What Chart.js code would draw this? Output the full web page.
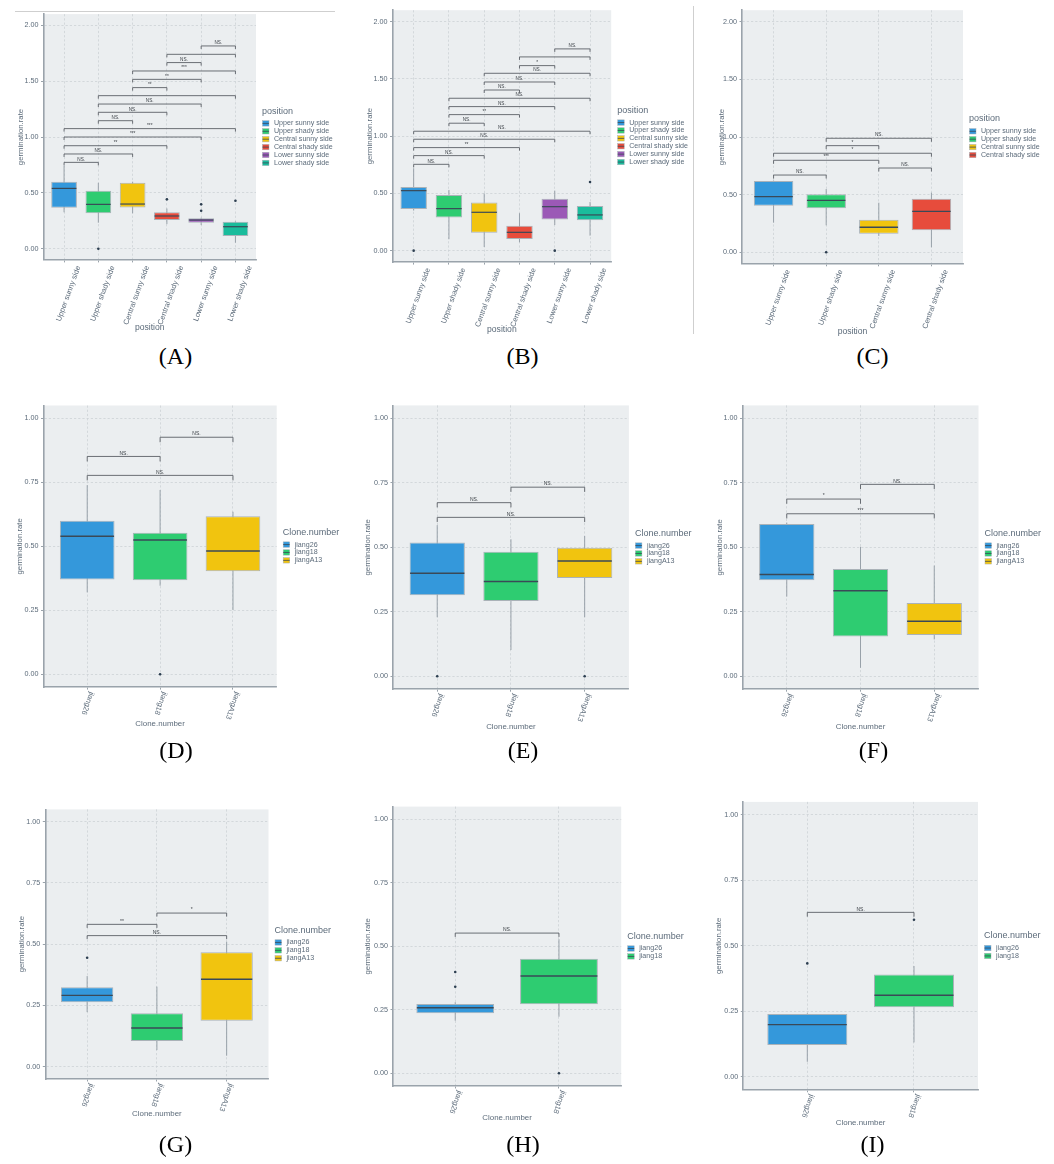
<!DOCTYPE html>
<html>
<head>
<meta charset="utf-8">
<title>Germination rate by position and clone</title>
<script src="https://cdn.jsdelivr.net/npm/chart.js@4.4.1/dist/chart.umd.min.js"></script>
<style>
  html, body { margin: 0; padding: 0; background: #ffffff; }
  body { width: 1054px; height: 1164px; position: relative; overflow: hidden; }
  .cap { position: absolute; font-family: "Liberation Serif", "DejaVu Serif", serif; font-size: 24px;
         line-height: 24px; color: #000; transform: translateX(-50%); white-space: nowrap; }
  .rule { position: absolute; background: #cfcfcf; }
</style>
</head>
<body>
<div class="rule" style="left:15px;top:10.5px;width:320px;height:1px;"></div>
<div class="rule" style="left:692.6px;top:6px;width:1.2px;height:328px;"></div>
<script>
// ---------- categories ----------
const POS6 = ['Upper sunny side', 'Upper shady side', 'Central sunny side',
              'Central shady side', 'Lower sunny side', 'Lower shady side'];
const POS4 = ['Upper sunny side', 'Upper shady side', 'Central sunny side', 'Central shady side'];
const CLONE3 = ['jiang26', 'jiang18', 'jiangA13'];
const CLONE2 = ['jiang26', 'jiang18'];

// ---------- y tick labels ----------
const TICKS_WIDE = [0, 0.5, 1.0, 1.5, 2.0];
const TICKS_UNIT = [0, 0.25, 0.5, 0.75, 1.0];

// ---------- (A) all clones, by position ----------
const aLow  = [0.326, 0.233, 0.317, 0.220, 0.212, 0.054];
const aQ1   = [0.367, 0.317, 0.370, 0.257, 0.233, 0.114];
const aMed  = [0.540, 0.397, 0.400, 0.293, 0.257, 0.197];
const aQ3   = [0.600, 0.520, 0.590, 0.326, 0.272, 0.242];
const aHigh = [0.743, 0.590, 0.600, 0.360, 0.278, 0.245];
const aOut  = [[2, 0.0], [4, 0.442], [5, 0.397], [5, 0.340], [6, 0.430]];
const aSig  = [[1, 2, 0.773, 'NS.'], [1, 3, 0.848, 'NS.'], [1, 4, 0.922, '**'], [1, 5, 1.000, '***'],
               [1, 6, 1.075, '***'], [2, 3, 1.146, 'NS.'], [2, 4, 1.221, 'NS.'], [2, 5, 1.295, 'NS.'],
               [2, 6, 1.370, ''], [3, 4, 1.442, '**'], [3, 5, 1.516, '**'], [3, 6, 1.591, '***'],
               [4, 5, 1.666, 'NS.'], [4, 6, 1.740, ''], [5, 6, 1.815, 'NS.']];

// ---------- (B) ----------
const bLow  = [0.350, 0.100, 0.032, 0.073, 0.224, 0.131];
const bQ1   = [0.364, 0.290, 0.157, 0.102, 0.271, 0.265];
const bMed  = [0.524, 0.367, 0.335, 0.160, 0.384, 0.312];
const bQ3   = [0.556, 0.486, 0.420, 0.218, 0.454, 0.390];
const bHigh = [0.720, 0.530, 0.500, 0.327, 0.524, 0.425];
const bOut  = [[1, 0.0], [5, 0.0], [6, 0.600]];
const bSig  = [[1, 2, 0.754, 'NS.'], [1, 3, 0.830, 'NS.'], [1, 4, 0.900, '**'], [1, 5, 0.973, 'NS.'],
               [1, 6, 1.043, 'NS.'], [2, 3, 1.113, 'NS.'], [2, 4, 1.188, '**'], [2, 5, 1.258, 'NS.'],
               [2, 6, 1.331, 'NS.'], [3, 4, 1.403, 'NS.'], [3, 5, 1.473, 'NS.'], [3, 6, 1.549, 'NS.'],
               [4, 5, 1.616, '*'], [4, 6, 1.692, ''], [5, 6, 1.762, 'NS.']];

// ---------- (C) ----------
const cLow  = [0.257, 0.234, 0.141, 0.043];
const cQ1   = [0.404, 0.382, 0.161, 0.191];
const cMed  = [0.482, 0.451, 0.217, 0.355];
const cQ3   = [0.618, 0.503, 0.283, 0.465];
const cHigh = [0.622, 0.549, 0.430, 0.517];
const cOut  = [[2, 0.0]];
const cSig  = [[1, 2, 0.670, 'NS.'], [3, 4, 0.731, 'NS.'], [1, 3, 0.798, '***'],
               [1, 4, 0.859, '*'], [2, 3, 0.925, '*'], [2, 4, 0.989, 'NS.']];

// ---------- (D) ----------
const dLow  = [0.320, 0.346, 0.251];
const dQ1   = [0.370, 0.367, 0.403];
const dMed  = [0.539, 0.525, 0.482];
const dQ3   = [0.600, 0.553, 0.617];
const dHigh = [0.739, 0.720, 0.635];
const dOut  = [[2, 0.0]];
const dSig  = [[1, 3, 0.777, 'NS.'], [1, 2, 0.851, 'NS.'], [2, 3, 0.926, 'NS.']];

// ---------- (E) ----------
const eLow  = [0.229, 0.102, 0.229];
const eQ1   = [0.314, 0.292, 0.381];
const eMed  = [0.399, 0.367, 0.447];
const eQ3   = [0.519, 0.483, 0.498];
const eHigh = [0.586, 0.531, 0.544];
const eOut  = [[1, 0.0], [3, 0.0]];
const eSig  = [[1, 3, 0.616, 'NS.'], [1, 2, 0.673, 'NS.'], [2, 3, 0.733, 'NS.']];

// ---------- (F) ----------
const fLow  = [0.309, 0.033, 0.143];
const fQ1   = [0.372, 0.154, 0.160];
const fMed  = [0.395, 0.332, 0.213];
const fQ3   = [0.590, 0.416, 0.284];
const fHigh = [0.596, 0.502, 0.429];
const fOut  = [];
const fSig  = [[1, 3, 0.630, '***'], [1, 2, 0.687, '*'], [2, 3, 0.744, 'NS.']];

// ---------- (G) ----------
const gLow  = [0.223, 0.068, 0.045];
const gQ1   = [0.263, 0.105, 0.188];
const gMed  = [0.291, 0.158, 0.357];
const gQ3   = [0.324, 0.218, 0.467];
const gHigh = [0.370, 0.327, 0.510];
const gOut  = [[1, 0.445]];
const gSig  = [[1, 3, 0.535, 'NS.'], [1, 2, 0.581, '**'], [2, 3, 0.627, '*']];

// ---------- (H) ----------
const hLow  = [0.207, 0.223];
const hQ1   = [0.236, 0.272];
const hMed  = [0.258, 0.383];
const hQ3   = [0.273, 0.451];
const hHigh = [0.280, 0.528];
const hOut  = [[1, 0.399], [1, 0.341], [2, 0.0]];
const hSig  = [[1, 2, 0.552, 'NS.']];

// ---------- (I) ----------
const iLow  = [0.057, 0.131];
const iQ1   = [0.121, 0.265];
const iMed  = [0.199, 0.311];
const iQ3   = [0.240, 0.391];
const iHigh = [0.242, 0.423];
const iOut  = [[1, 0.433], [2, 0.600]];
const iSig  = [[1, 2, 0.628, 'NS.']];

// ---------- styling ----------
const FONT = '"Liberation Sans", Arial, Helvetica, sans-serif';
const TEXT = '#5c6b7a';
const AXIS = '#9aa3ab';
const GRID = '#cdd2d6';
const PANEL_BG = '#ebeef0';
const BOX_LINE = '#aab2b8';
const WHISKER = '#98a1a9';
const MEDIAN = '#3a4957';
const POINT = '#2c3e50';
const SIG_LINE = '#5b6066';
const SIG_TEXT = '#3a3f45';
const FILL = {
  'Upper sunny side': '#3498db', 'Upper shady side': '#2ecc71', 'Central sunny side': '#f1c40f',
  'Central shady side': '#e74c3c', 'Lower sunny side': '#9b59b6', 'Lower shady side': '#1abc9c',
  'jiang26': '#3498db', 'jiang18': '#2ecc71', 'jiangA13': '#f1c40f'
};

// ---------- panel layout (page pixels) ----------
const panels = [
  { tag: 'A', cats: POS6, low: aLow, q1: aQ1, med: aMed, q3: aQ3, high: aHigh, out: aOut, sig: aSig,
    ticks: TICKS_WIDE, yMin: -0.1, yMax: 2.1, title: 'position',
    canvas: [0, 0, 345, 340], plot: [43.5, 14.1, 256, 259.9], yTitleX: 20.5, xTitleY: 328, xTitleSize: 8.6,
    tip: 3, sigSize: 4.7, medW: 1.2, down: false, cap: [175.5, 344] },
  { tag: 'B', cats: POS6, low: bLow, q1: bQ1, med: bMed, q3: bQ3, high: bHigh, out: bOut, sig: bSig,
    ticks: TICKS_WIDE, yMin: -0.1, yMax: 2.1, title: 'position',
    canvas: [345, 0, 350, 340], plot: [392.5, 10.2, 611.2, 262.1], yTitleX: 370, xTitleY: 330, xTitleSize: 8.6,
    tip: 3, sigSize: 4.7, medW: 1.2, down: false, cap: [522.5, 344] },
  { tag: 'C', cats: POS4, low: cLow, q1: cQ1, med: cMed, q3: cQ3, high: cHigh, out: cOut, sig: cSig,
    ticks: TICKS_WIDE, yMin: -0.1, yMax: 2.1, title: 'position',
    canvas: [695, 0, 359, 340], plot: [742, 10.2, 963, 263.8], yTitleX: 721.7, xTitleY: 331.7, xTitleSize: 8.6,
    tip: 3.5, sigSize: 4.7, medW: 1.3, down: false, cap: [872.5, 344] },
  { tag: 'D', cats: CLONE3, low: dLow, q1: dQ1, med: dMed, q3: dQ3, high: dHigh, out: dOut, sig: dSig,
    ticks: TICKS_UNIT, yMin: -0.05, yMax: 1.05, title: 'Clone.number',
    canvas: [0, 395, 345, 345], plot: [43.5, 405.5, 276.7, 687.1], yTitleX: 20, xTitleY: 724, xTitleSize: 7.9,
    tip: 5, sigSize: 5, medW: 1.5, down: true, cap: [176, 738] },
  { tag: 'E', cats: CLONE3, low: eLow, q1: eQ1, med: eMed, q3: eQ3, high: eHigh, out: eOut, sig: eSig,
    ticks: TICKS_UNIT, yMin: -0.05, yMax: 1.05, title: 'Clone.number',
    canvas: [345, 395, 350, 345], plot: [393, 405.4, 628.9, 689.2], yTitleX: 368.3, xTitleY: 727.3, xTitleSize: 7.9,
    tip: 4.7, sigSize: 5, medW: 1.5, down: true, cap: [523, 738] },
  { tag: 'F', cats: CLONE3, low: fLow, q1: fQ1, med: fMed, q3: fQ3, high: fHigh, out: fOut, sig: fSig,
    ticks: TICKS_UNIT, yMin: -0.05, yMax: 1.05, title: 'Clone.number',
    canvas: [695, 395, 359, 345], plot: [742.5, 405.4, 978.5, 689.2], yTitleX: 720, xTitleY: 727.3, xTitleSize: 7.9,
    tip: 4.7, sigSize: 5, medW: 1.5, down: true, cap: [873.5, 738] },
  { tag: 'G', cats: CLONE3, low: gLow, q1: gQ1, med: gMed, q3: gQ3, high: gHigh, out: gOut, sig: gSig,
    ticks: TICKS_UNIT, yMin: -0.05, yMax: 1.05, title: 'Clone.number',
    canvas: [0, 795, 345, 340], plot: [45.3, 809.4, 268.5, 1079], yTitleX: 21.7, xTitleY: 1114.3, xTitleSize: 7.9,
    tip: 3.5, sigSize: 5, medW: 1.4, down: true, cap: [175.5, 1132] },
  { tag: 'H', cats: CLONE2, low: hLow, q1: hQ1, med: hMed, q3: hQ3, high: hHigh, out: hOut, sig: hSig,
    ticks: TICKS_UNIT, yMin: -0.05, yMax: 1.05, title: 'Clone.number',
    canvas: [345, 795, 350, 340], plot: [393, 806.6, 621.2, 1086], yTitleX: 368.3, xTitleY: 1118.3, xTitleSize: 7.9,
    tip: 3.8, sigSize: 5, medW: 1.4, down: true, cap: [523, 1132] },
  { tag: 'I', cats: CLONE2, low: iLow, q1: iQ1, med: iMed, q3: iQ3, high: iHigh, out: iOut, sig: iSig,
    ticks: TICKS_UNIT, yMin: -0.05, yMax: 1.05, title: 'Clone.number',
    canvas: [695, 795, 359, 340], plot: [743.3, 801.9, 978, 1089.8], yTitleX: 719.3, xTitleY: 1123.3, xTitleSize: 7.9,
    tip: 4.3, sigSize: 5, medW: 1.4, down: true, cap: [872.5, 1132] }
];

Chart.defaults.font.family = FONT;
Chart.defaults.color = TEXT;

// Whiskers, medians, significance brackets, tilted category labels and the legend.
function boxExtras(p) {
  return {
    id: 'boxExtras' + p.tag,
    beforeDraw(chart) {
      const a = chart.chartArea, ctx = chart.ctx;
      ctx.save();
      ctx.fillStyle = PANEL_BG;
      ctx.fillRect(a.left, a.top, a.right - a.left, a.bottom - a.top);
      ctx.restore();
    },
    beforeDatasetsDraw(chart) {
      const xS = chart.scales.x, yS = chart.scales.y, ctx = chart.ctx;
      ctx.save();
      ctx.strokeStyle = WHISKER;
      ctx.lineWidth = 1;
      p.cats.forEach((c, i) => {
        const x = xS.getPixelForValue(i + 1);
        ctx.beginPath();
        ctx.moveTo(x, yS.getPixelForValue(p.high[i]));
        ctx.lineTo(x, yS.getPixelForValue(p.low[i]));
        ctx.stroke();
      });
      ctx.restore();
    },
    afterDatasetsDraw(chart) {
      const xS = chart.scales.x, yS = chart.scales.y, ctx = chart.ctx;
      const bars = chart.getDatasetMeta(0).data;
      ctx.save();
      ctx.strokeStyle = MEDIAN;
      ctx.lineWidth = p.medW;
      p.cats.forEach((c, i) => {
        const el = bars[i];
        const y = yS.getPixelForValue(p.med[i]);
        ctx.beginPath();
        ctx.moveTo(el.x - el.width / 2 + 0.5, y);
        ctx.lineTo(el.x + el.width / 2 - 0.5, y);
        ctx.stroke();
      });
      ctx.strokeStyle = SIG_LINE;
      ctx.lineWidth = 0.9;
      ctx.fillStyle = SIG_TEXT;
      ctx.font = p.sigSize + 'px ' + FONT;
      ctx.textAlign = 'center';
      ctx.textBaseline = 'alphabetic';
      p.sig.forEach(([i, j, v, lab]) => {
        const x1 = xS.getPixelForValue(i), x2 = xS.getPixelForValue(j), y = yS.getPixelForValue(v);
        ctx.beginPath();
        ctx.moveTo(x1, y + p.tip);
        ctx.lineTo(x1, y);
        ctx.lineTo(x2, y);
        ctx.lineTo(x2, y + p.tip);
        ctx.stroke();
        if (lab) ctx.fillText(lab, (x1 + x2) / 2, y - 1.8);
      });
      ctx.restore();
    },
    afterDraw(chart) {
      const xS = chart.scales.x, ctx = chart.ctx, a = chart.chartArea;
      ctx.save();
      ctx.fillStyle = TEXT;
      p.cats.forEach((c, i) => {
        const x = xS.getPixelForValue(i + 1);
        ctx.save();
        if (p.down) {
          // clone labels run downwards from the tick
          ctx.font = '7.4px ' + FONT;
          ctx.textAlign = 'left';
          ctx.textBaseline = 'middle';
          ctx.translate(x + 4.5, a.bottom + 5);
          ctx.rotate(110 * Math.PI / 180);
        } else {
          // position labels end just right of the tick
          ctx.font = '7.5px ' + FONT;
          ctx.textAlign = 'right';
          ctx.textBaseline = 'top';
          ctx.translate(x + 11, a.bottom + 5);
          ctx.rotate(-70 * Math.PI / 180);
        }
        ctx.fillText(c, 0, 0);
        ctx.restore();
      });
      // legend
      const n = p.cats.length, step = 7.9, gap = 12.3;
      const lx = a.right + 6.5;
      const titleY = (a.top + a.bottom) / 2 - (gap + (n - 1) * step) / 2;
      ctx.textAlign = 'left';
      ctx.textBaseline = 'middle';
      ctx.fillStyle = TEXT;
      ctx.font = '9px ' + FONT;
      ctx.fillText(p.title, lx - 0.5, titleY);
      ctx.font = '7.1px ' + FONT;
      p.cats.forEach((c, i) => {
        const y = titleY + gap + i * step;
        ctx.fillStyle = FILL[c];
        ctx.fillRect(lx, y - 2.7, 6.5, 5.4);
        ctx.strokeStyle = BOX_LINE;
        ctx.lineWidth = 0.5;
        ctx.strokeRect(lx, y - 2.7, 6.5, 5.4);
        ctx.strokeStyle = MEDIAN;
        ctx.lineWidth = 0.8;
        ctx.beginPath();
        ctx.moveTo(lx, y); ctx.lineTo(lx + 6.5, y);
        ctx.stroke();
        ctx.fillStyle = TEXT;
        ctx.fillText(c, lx + 11.5, y);
      });
      ctx.restore();
    }
  };
}

function drawPanel(p) {
  const [cx, cy, cw, ch] = p.canvas;
  const [pl, pt, pr, pb] = p.plot;
  const cv = document.createElement('canvas');
  cv.width = cw;
  cv.height = ch;
  cv.style.cssText = 'position:absolute;left:' + cx + 'px;top:' + cy + 'px;width:' + cw + 'px;height:' + ch + 'px;';
  document.body.appendChild(cv);

  const yTitleSize = 7.8, yTitleLH = yTitleSize * 1.2, xTitleLH = p.xTitleSize * 1.2;
  const n = p.cats.length;
  const gridOpts = { offset: false, color: GRID, lineWidth: 0.8, drawTicks: true, tickLength: 2.5, tickColor: AXIS, tickWidth: 1 };
  const borderOpts = { display: true, color: AXIS, width: 1.6, dash: [2.2, 2] };

  new Chart(cv, {
    type: 'bar',
    data: {
      datasets: [
        {
          type: 'bar',
          data: p.cats.map((c, i) => ({ x: i + 1, y: [p.q1[i], p.q3[i]] })),
          backgroundColor: p.cats.map(c => FILL[c]),
          borderColor: BOX_LINE,
          borderWidth: 1,
          borderSkipped: false,
          barPercentage: 0.75,
          categoryPercentage: 1,
          order: 2
        },
        {
          type: 'scatter',
          data: p.out.map(o => ({ x: o[0], y: o[1] })),
          pointRadius: 1.3,
          pointBackgroundColor: POINT,
          pointBorderWidth: 0,
          order: 1
        }
      ]
    },
    options: {
      responsive: false,
      animation: false,
      events: [],
      devicePixelRatio: 1,
      layout: { autoPadding: false, padding: { left: 0, top: pt - cy, right: cx + cw - pr, bottom: 0 } },
      plugins: { legend: { display: false }, tooltip: { enabled: false } },
      scales: {
        x: {
          type: 'linear',
          offset: false,
          min: 0.4,
          max: n + 0.6,
          afterBuildTicks: s => { s.ticks = p.cats.map((c, i) => ({ value: i + 1 })); },
          afterFit: s => { s.height = cy + ch - pb; },
          ticks: { display: false, autoSkip: false },
          grid: gridOpts,
          border: borderOpts,
          title: {
            display: true, text: p.title, color: TEXT, font: { size: p.xTitleSize },
            padding: { top: 0, bottom: (cy + ch - p.xTitleY) - xTitleLH / 2 }
          }
        },
        y: {
          type: 'linear',
          offset: false,
          min: p.yMin,
          max: p.yMax,
          afterBuildTicks: s => { s.ticks = p.ticks.map(v => ({ value: v })); },
          afterFit: s => { s.width = pl - cx; },
          ticks: { padding: 2.5, color: TEXT, font: { size: 7.2 }, callback: v => Number(v).toFixed(2) },
          grid: gridOpts,
          border: borderOpts,
          title: {
            display: true, text: 'germination.rate', color: TEXT, font: { size: yTitleSize },
            padding: { top: (p.yTitleX - cx) - yTitleLH / 2, bottom: 0 }
          }
        }
      }
    },
    plugins: [boxExtras(p)]
  });

  const cap = document.createElement('div');
  cap.className = 'cap';
  cap.style.left = p.cap[0] + 'px';
  cap.style.top = p.cap[1] + 'px';
  cap.textContent = '(' + p.tag + ')';
  document.body.appendChild(cap);
}

panels.forEach(drawPanel);
</script>
</body>
</html>
